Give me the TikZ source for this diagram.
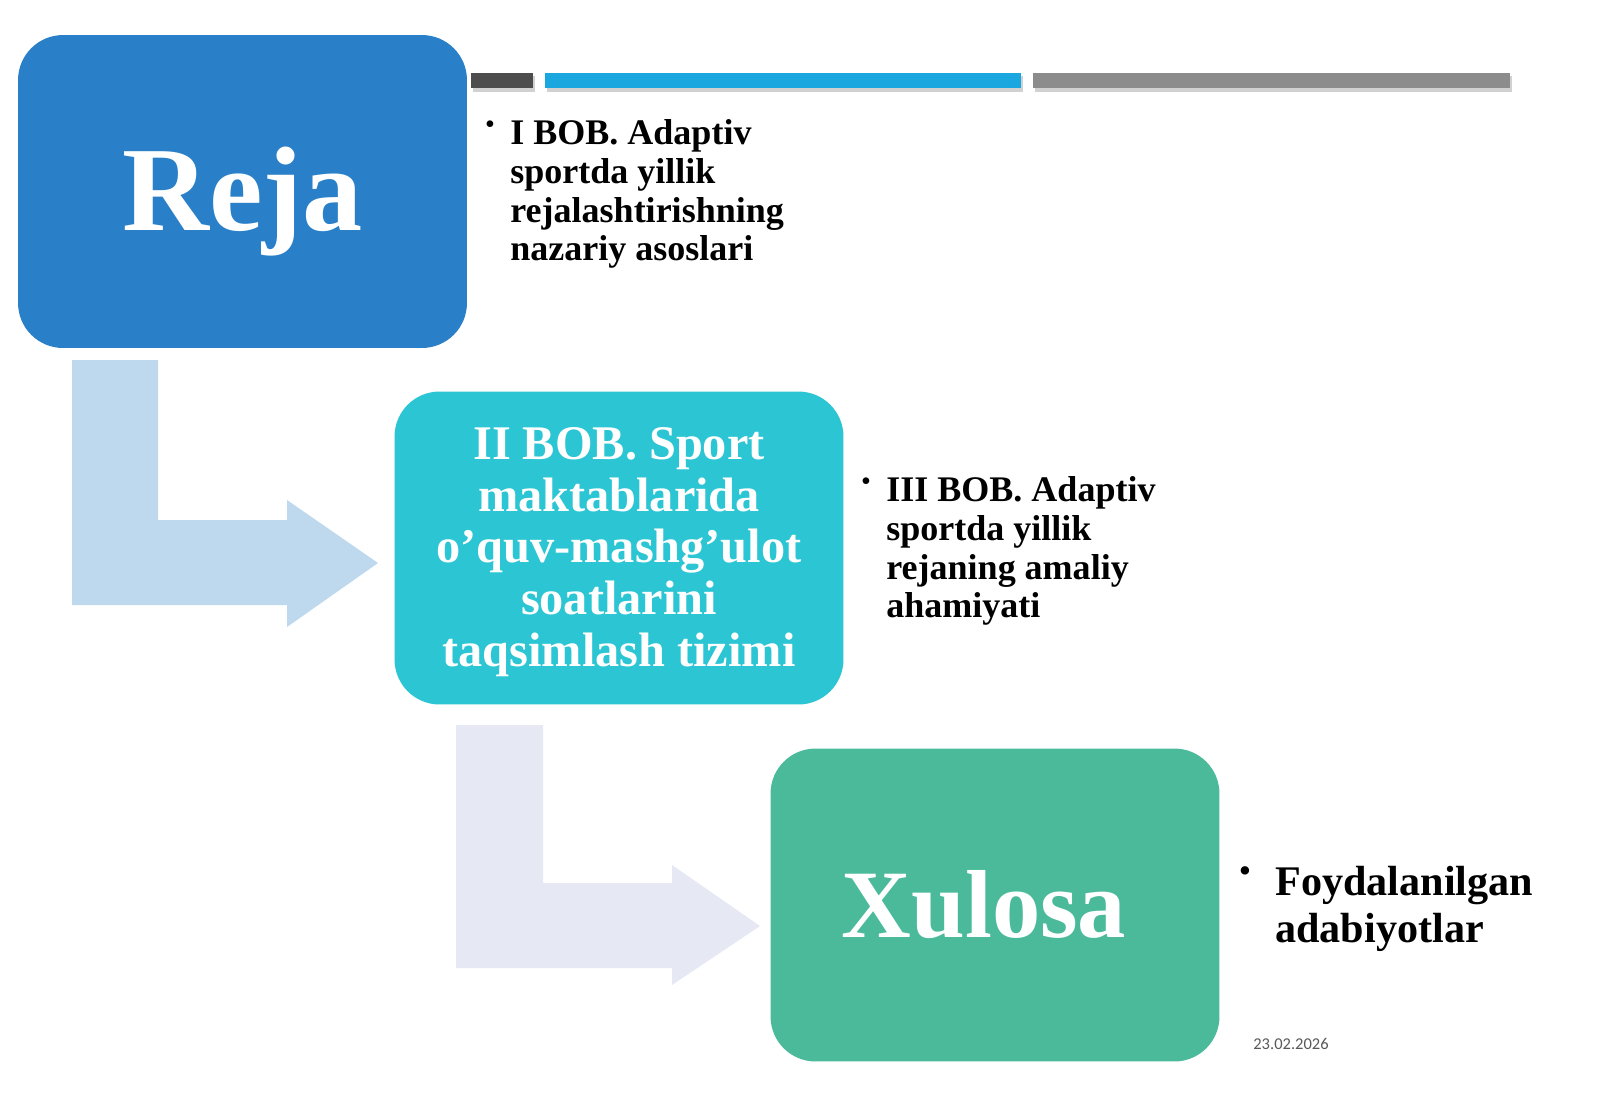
\documentclass[tikz,border=0pt]{standalone}
\usepackage{fontspec}
\setmainfont{Liberation Serif}
\newfontfamily\datefont{Carlito}
\usetikzlibrary{positioning}

\definecolor{rejablue}{RGB}{42,128,200}
\definecolor{bobcyan}{RGB}{43,197,212}
\definecolor{xulgreen}{RGB}{74,186,155}
\definecolor{arrowone}{RGB}{190,216,238}
\definecolor{arrowtwo}{RGB}{230,233,244}
\definecolor{bardark}{RGB}{77,77,77}
\definecolor{barblue}{RGB}{26,167,224}
\definecolor{bargray}{RGB}{140,140,140}

\begin{document}
\begin{tikzpicture}[x=0.02cm,y=-0.02cm,
    box/.style={rounded corners=0.9cm, minimum width=8.98cm, minimum height=6.26cm,
                inner sep=0},
    boxtext/.style={text=white, align=center, inner sep=0},
    item/.style={font=\bfseries\fontsize{20.5}{22.1}\selectfont, align=left,
                 inner sep=0, anchor=north west},
    dot/.style={font=\fontsize{16}{16}\selectfont, inner sep=0},
    barshadow/.style={fill=black, opacity=0.18}]
            \fill[white] (0,0) rectangle (1600,1107);
            \useasboundingbox (0,0) rectangle (1600,1107);
            % bars on top
            \fill[barshadow] (473,76) rectangle (535,92);
            \fill[barshadow] (547,76) rectangle (1023,92);
            \fill[barshadow] (1035,76) rectangle (1512,92);
            \fill[bardark] (471,73) rectangle (533,88);
            \fill[barblue] (545,73) rectangle (1021,88);
            \fill[bargray] (1033,73) rectangle (1510,88);
            % bent arrows
            \fill[arrowone] (72,360) -- (158,360) -- (158,520) -- (287,520) -- (287,500)
                -- (378,563) -- (287,627) -- (287,605) -- (72,605) -- cycle;
            \fill[arrowtwo] (456,725) -- (543,725) -- (543,883) -- (672,883) -- (672,865)
                -- (760,926) -- (672,985) -- (672,968) -- (456,968) -- cycle;
            % boxes
            \draw (242.5,191.5) node[box, fill=rejablue] (reja) {};
            \draw (619,548) node[box, fill=bobcyan] (bob) {};
            \draw (995,905) node[box, fill=xulgreen] (xulosa) {};
            \node[boxtext, font=\bfseries\fontsize{68.5}{80}\selectfont]
                (rejatext) at ([yshift=-0.2cm]reja.center) {Reja};
            \node[boxtext, font=\bfseries\fontsize{27.5}{29.5}\selectfont]
                (bobtext) at ([yshift=-0.08cm]bob.center) {II BOB. Sport\\maktablarida\\o’quv-mashg’ulot\\soatlarini\\taqsimlash tizimi};
            \node[boxtext, font=\bfseries\fontsize{55}{64}\selectfont]
                (xulosatext) at ([xshift=-0.22cm]xulosa.center) {Xulosa};
            % bullet texts
            \draw (510,119) node[item] (bobone) {I BOB. Adaptiv\\sportda yillik\\rejalashtirishning\\nazariy asoslari};
            \draw (886,476) node[item] (bobthree) {III BOB. Adaptiv\\sportda yillik\\rejaning amaliy\\ahamiyati};
            \draw (1275,866) node[item, font=\bfseries\fontsize{24}{26.5}\selectfont] (adab) {Foydalanilgan\\adabiyotlar};
            \node[dot] (dotone) at (490,127) {\textbullet};
            \node[dot] (dotthree) at (866,484) {\textbullet};
            \node[dot, font=\fontsize{20}{20}\selectfont] (dotadab) at (1245,875) {\textbullet};
            \node[font=\datefont\fontsize{9.4}{10}\selectfont, text=black!65] (date) at (1291,1044) {23.02.2026};
        \end{tikzpicture}
\end{document}
